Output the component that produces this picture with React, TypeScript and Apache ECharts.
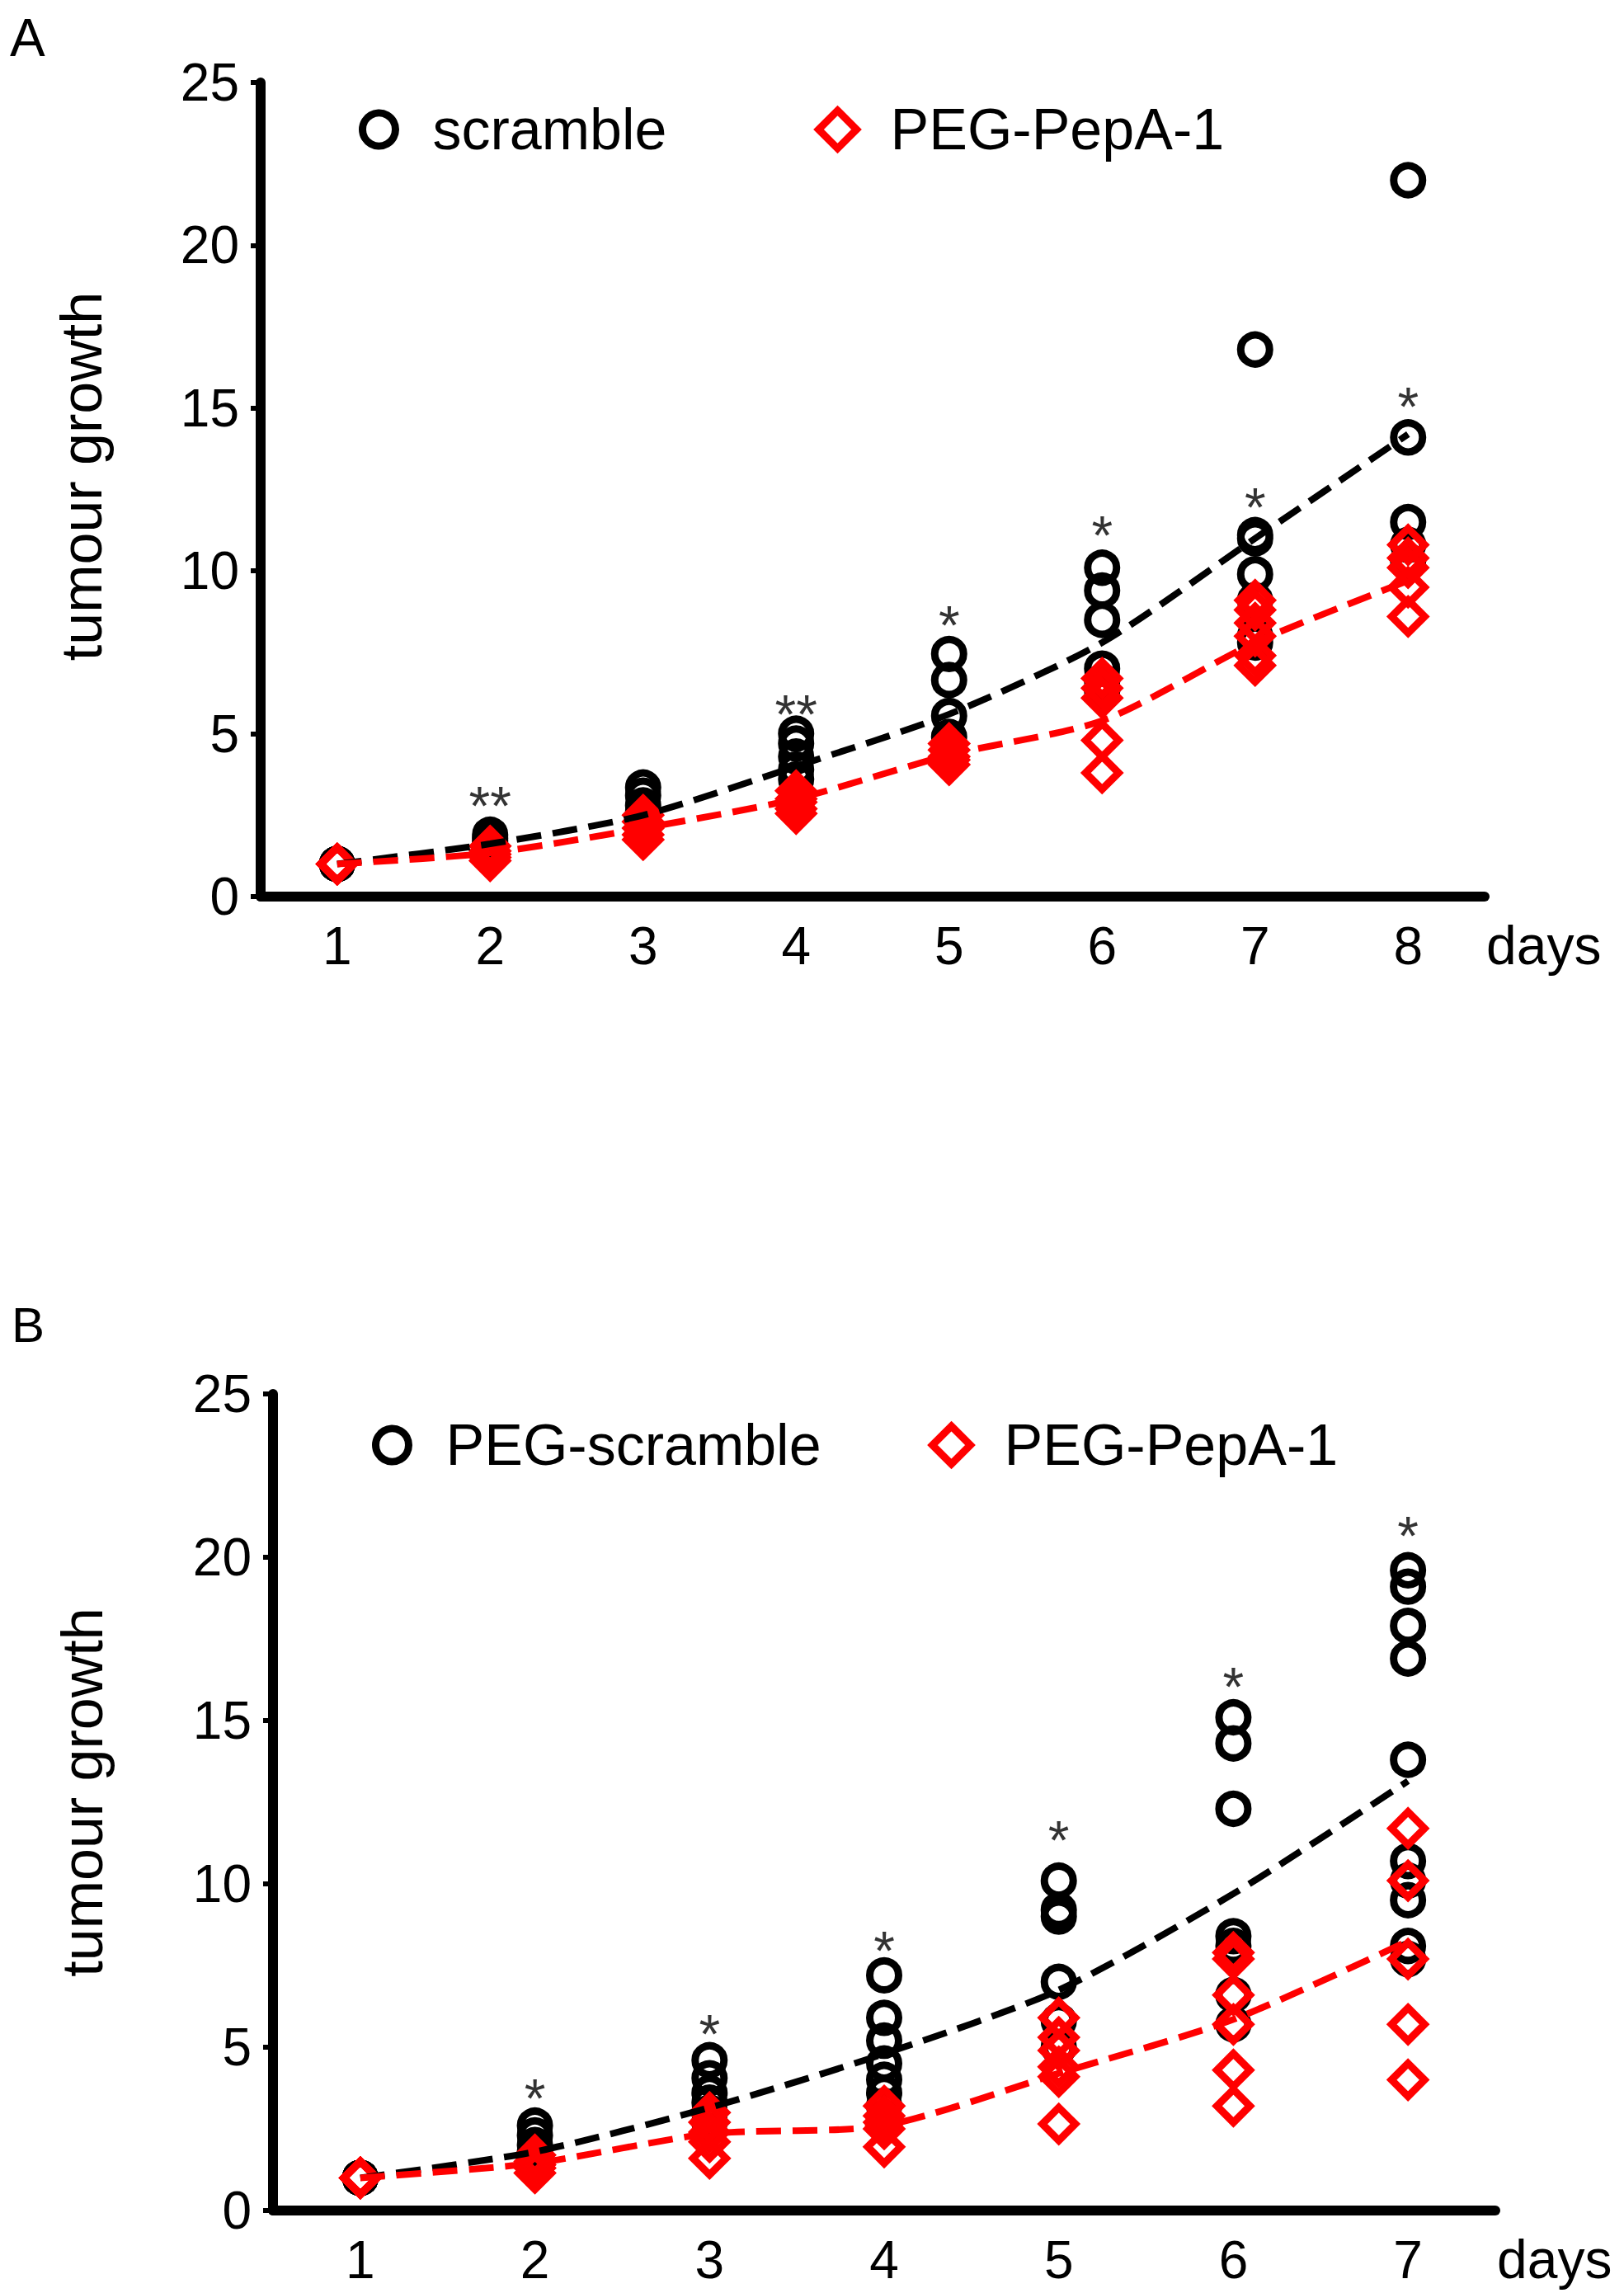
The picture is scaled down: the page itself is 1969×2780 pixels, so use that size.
import React, { useEffect, useRef } from 'react';
import * as echarts from 'echarts';

// panel A: days 1-8
const daysA = ['1', '2', '3', '4', '5', '6', '7', '8'];
const scrambleA = [
  [1, 1, 1, 1, 1],
  [1.9, 1.8, 1.7, 1.6, 1.5],
  [3.35, 3.1, 2.8, 2.6, 2.3],
  [5.0, 4.7, 4.3, 3.9, 3.6],
  [7.45, 6.65, 5.55, 4.9, 4.4],
  [10.1, 9.4, 8.5, 7.0, 6.6, 6.3],
  [16.8, 11.1, 11.0, 9.9, 9.1, 8.0, 7.8],
  [22.0, 14.1, 11.5, 10.8, 10.3],
];
const pepA = [
  [1, 1, 1, 1, 1],
  [1.55, 1.4, 1.3, 1.2, 1.1],
  [2.5, 2.3, 2.1, 1.9, 1.75],
  [3.25, 3.0, 2.9, 2.7, 2.55],
  [4.7, 4.5, 4.3, 4.2, 4.05],
  [6.7, 6.4, 6.1, 4.8, 3.8],
  [9.1, 8.8, 8.4, 8.0, 7.4, 7.1],
  [10.8, 10.4, 10.1, 9.5, 8.6],
];
const scrambleMeanA = [1, 1.62, 2.5, 4.0, 5.6, 7.8, 11.0, 14.2];
const pepMeanA = [1, 1.34, 2.1, 3.0, 4.35, 5.4, 7.8, 9.7];
const sigDaysA = ['2', '4', '5', '6', '7', '8'];
const sigTextA = ['**', '**', '*', '*', '*', '*'];
const sigYA = [3.15, 5.95, 8.7, 11.45, 12.3, 15.4];

// panel B: days 1-7
const daysB = ['1', '2', '3', '4', '5', '6', '7'];
const scrambleB = [
  [1, 1, 1, 1, 1, 1, 1],
  [2.6, 2.3, 2.0, 1.8, 1.6, 1.5],
  [4.6, 4.05, 3.6, 3.3, 3.0, 2.7],
  [7.2, 5.9, 5.2, 4.5, 4.0, 3.6, 3.2],
  [10.1, 9.2, 9.0, 7.0, 5.8, 5.0],
  [15.1, 14.3, 12.3, 8.4, 8.1, 6.6, 5.7],
  [19.6, 19.1, 17.9, 16.9, 13.8, 10.7, 10.1, 9.5, 8.1, 7.7],
];
const pepB = [
  [1, 1, 1, 1, 1, 1, 1],
  [1.7, 1.5, 1.4, 1.3, 1.15],
  [3.0, 2.7, 2.4, 2.1, 1.6],
  [3.2, 2.9, 2.7, 2.5, 1.95],
  [5.9, 5.3, 4.9, 4.4, 4.1, 2.65],
  [7.9, 7.7, 6.6, 5.7, 4.3, 3.2],
  [11.7, 10.1, 7.7, 5.7, 4.0],
];
const scrambleMeanB = [1, 1.8, 3.15, 4.8, 6.75, 9.7, 13.15];
const pepMeanB = [1, 1.45, 2.35, 2.6, 4.2, 5.85, 8.25];
const sigDaysB = ['2', '3', '4', '5', '6', '7'];
const sigTextB = ['*', '*', '*', '*', '*', '*'];
const sigYB = [3.8, 5.75, 8.3, 11.7, 16.4, 21.0];

const yMin = 0;
const yMax = 25;
const yStep = 5;

const FONT = '"Liberation Sans", Arial, sans-serif';
const circleStyle = { color: 'rgba(0,0,0,0)', borderColor: '#000', borderWidth: 9, opacity: 1 };
const diamondStyle = { color: 'rgba(0,0,0,0)', borderColor: '#ff0000', borderWidth: 9, opacity: 1 };

const points = (days: string[], groups: number[][]) =>
  groups.flatMap((g, i) => g.map((v) => [days[i], v]));

const sigPoints = (days: string[], texts: string[], ys: number[]) =>
  days.map((d, i) => ({ name: texts[i], value: [d, ys[i]] }));

const xAxisFor = (days: string[], grid: number) => ({
  type: 'category',
  gridIndex: grid,
  data: days,
  boundaryGap: true,
  axisLine: { lineStyle: { color: '#000', width: 12 } },
  axisTick: { alignWithLabel: true, length: 16, lineStyle: { color: '#000', width: 10 } },
  axisLabel: { color: '#000', fontSize: 64, margin: 28, fontFamily: FONT },
  splitLine: { show: false },
  name: 'days',
  nameLocation: 'end',
  nameGap: 2,
  nameTextStyle: { color: '#000', fontSize: 66, fontFamily: FONT, verticalAlign: 'top', padding: [26, 0, 0, 0] },
});

const yAxisFor = (grid: number, gap: number, shift: number) => ({
  type: 'value',
  gridIndex: grid,
  min: yMin,
  max: yMax,
  interval: yStep,
  axisLine: { show: true, lineStyle: { color: '#000', width: 12 } },
  axisTick: { show: true, length: 12, lineStyle: { color: '#000', width: 6 } },
  axisLabel: { color: '#000', fontSize: 64, margin: 26, fontFamily: FONT },
  splitLine: { show: false },
  name: 'tumour growth',
  nameLocation: 'middle',
  nameGap: gap,
  nameTextStyle: { color: '#000', fontSize: 70, fontFamily: FONT, padding: [0, 0, 0, shift] },
});

const dotSeries = (name: string, data: any[], grid: number, diamond: boolean) => ({
  name,
  type: 'scatter',
  xAxisIndex: grid,
  yAxisIndex: grid,
  data,
  symbol: diamond ? 'diamond' : 'circle',
  symbolSize: diamond ? 40 : 35,
  itemStyle: diamond ? diamondStyle : circleStyle,
  silent: true,
});

const meanSeries = (data: number[], grid: number, color: string) => ({
  type: 'line',
  xAxisIndex: grid,
  yAxisIndex: grid,
  data,
  smooth: 0.25,
  symbol: 'none',
  showSymbol: false,
  lineStyle: { color, width: 8, type: [30, 14] },
  silent: true,
});

const sigSeries = (data: any[], grid: number) => ({
  type: 'scatter',
  xAxisIndex: grid,
  yAxisIndex: grid,
  data,
  symbolSize: 1,
  itemStyle: { color: 'rgba(0,0,0,0)' },
  label: {
    show: true,
    position: 'inside',
    formatter: '{b}',
    color: '#000',
    fontSize: 66,
    fontFamily: FONT,
    offset: [0, 14],
  },
  silent: true,
});

const legendFor = (name: string, left: number, top: number, diamond: boolean) => ({
  data: [name],
  left,
  top,
  orient: 'horizontal',
  itemWidth: diamond ? 46 : 40,
  itemHeight: diamond ? 46 : 40,
  symbolKeepAspect: true,
  selectedMode: false,
  itemStyle: diamond ? diamondStyle : circleStyle,
  textStyle: { color: '#000', fontSize: 70, fontFamily: FONT, padding: [0, 0, 0, diamond ? 36 : 40] },
});

const App = () => {
  const chartRef = useRef(null);

  useEffect(() => {
    const chart = echarts.init(chartRef.current, null, { renderer: 'svg' });

    chart.setOption({
      animation: false,
      backgroundColor: '#fff',
      textStyle: { fontFamily: FONT },
      grid: [
        { left: 316, top: 100, width: 1484, height: 987 },
        { left: 331, top: 1690, width: 1482, height: 990 },
      ],
      xAxis: [xAxisFor(daysA, 0), xAxisFor(daysB, 1)],
      yAxis: [yAxisFor(0, 182, 32), yAxisFor(1, 196, 24)],
      legend: [
        legendFor('scramble', 430, 117, false),
        legendFor('PEG-PepA-1', 983, 117, true),
        legendFor('PEG-scramble', 446, 1712, false),
        legendFor('PEG-PepA-1', 1121, 1712, true),
      ],
      graphic: [
        { type: 'text', left: 12, top: 14, style: { text: 'A', fontSize: 64, fill: '#000', fontFamily: FONT } },
        { type: 'text', left: 14, top: 1576, style: { text: 'B', fontSize: 60, fill: '#000', fontFamily: FONT } },
      ],
      series: [
        dotSeries('scramble', points(daysA, scrambleA), 0, false),
        meanSeries(scrambleMeanA, 0, '#000'),
        dotSeries('PEG-PepA-1', points(daysA, pepA), 0, true),
        meanSeries(pepMeanA, 0, '#ff0000'),
        sigSeries(sigPoints(sigDaysA, sigTextA, sigYA), 0),
        dotSeries('PEG-scramble', points(daysB, scrambleB), 1, false),
        meanSeries(scrambleMeanB, 1, '#000'),
        dotSeries('PEG-PepA-1', points(daysB, pepB), 1, true),
        meanSeries(pepMeanB, 1, '#ff0000'),
        sigSeries(sigPoints(sigDaysB, sigTextB, sigYB), 1),
      ],
    });

    return () => {
      chart.dispose();
    };
  }, []);

  return (
    <div
      ref={chartRef}
      style={{ position: 'absolute', left: 0, top: 0, width: '1969px', height: '2780px' }}
    />
  );
};

export default App;
